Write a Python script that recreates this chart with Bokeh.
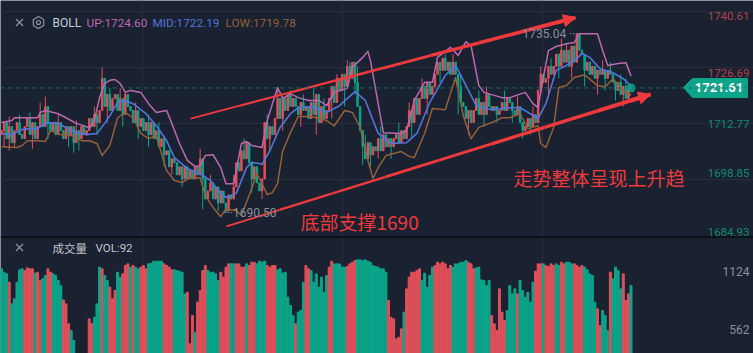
from bokeh.plotting import figure
from bokeh.embed import file_html
from bokeh.resources import INLINE
from bokeh.models import Range1d, FixedTicker, Span, Arrow, NormalHead
from bokeh.core.properties import value

BASE = 1700.0
CLOSE = [11,13,9,12,8,11,13,10,9,12,14,10,13,9,12,
 15,12,17,13, 11,13,10,13,11,9,12,10, 12,8,11,9,12,10, 11,14,12,15,13,16, 24,
 17,20,16,19, 20,16,19,15,20,17, 16,13,16,12, 14,11,13,10, 13,9, 11,7,9,5, 6,2,4,
 3,0,2,-1,2,-1, 1,-1,2,0, 4, -1,-6,-4, -2,-6,-3,-7,-4, -7,-9,-5,-6, -3,3,1, 6,4,8,
 3,-1,2,-2, -4,-1, 13,9,12, 10,14, 19,14, 19,16,20,17,19, 17,15,18,16,17,
 14,18,15,20,13,17,14,16, 19,22,18,24, 21,25,22,27,24, 28,23, 17,11, 7,4,8,5,7, 6,
 9,6,10,7,9,7, 9,10,8,11,9, 12,16,13, 19,15, 19,22,19,23,20, 22,25,
 28,26,29,26,28,25,28, 25,22,18, 17,14,16,13, 16,19,15,18,15,20,17, 16,17,15,16,
 18,16,19, 18,16,15,17, 13,11,12, 14,12,15,13, 21,25,23, 24,27,25, 27,30,27,31,
 28,31, 27,32,28, 35,31,30, 26,28, 25,27,24,26, 25,26,24,26,25, 23,21,
 23,20,22,19,22,21.61]
WICK_HIGH = {3:14.5,7:15,11:15.5,15:18,17:19.5,22:15,29:13.5,36:17,39:26.7,42:21.5,46:21.5,48:20.5,52:18,57:15,61:13,
 77:6.5,81:0,90:0,94:9,103:15,107:21,112:21,117:20,121:21.5,125:19,130:25,134:28.5,135:28,138:27,141:10,147:12,
 154:13,158:18,163:24,172:30,175:30,178:25,185:21,188:22,195:21,200:19.5,206:17,209:27,213:29,217:33.9,219:32.5,
 223:35.04,228:28,233:28.5,236:28,240:25,242:24}
WICK_LOW = {1:7,3:6,5:7,12:6.5,18:9,26:7,28:5.5,30:6,37:10,41:13,47:12,53:9,57:7,63:2,66:0,70:-3,78:-8.5,84:-9,87:-9.5,
 93:1,97:-4.5,101:-6,104:6,109:11,116:12,122:10,128:14,133:17,137:20,140:2.5,143:2,146:4,151:4,159:9,165:15,
 170:23,177:15,181:10,187:12,192:13,198:13,202:9,205:10,212:19,216:24,221:24,226:22,231:20,234:21,238:18.5,241:17,243:18}

UP_I = [0,4,5,14,15,17,22,25,29,33,34,36,38,40,42,44,46,48,50,54,57,60,64,66,69,72,75,77,79,82,85,87,90,93,95,97,101,102,103,105,107,109,112,115,119,123,126,129,134,136,140,142,143,146,148,155,157,160,164,167,169,174,177,180,182,185,187,194,197,203,206,208,210,212,215,219,222,224,227,231,233,235,239,242,244]
UP_V = [13,13.5,14.2,14.2,15.5,16,15.2,14.2,12.8,12,11.5,13.5,19.2,22.7,23.5,23.7,22.7,20.5,21,20.5,17.7,15.5,16,12.8,7.8,3.6,2.1,2.3,4.8,5,1.8,-2.2,-2.2,7.8,8.3,7.3,6.8,10.3,13.5,17.7,21.7,19,20.2,19.2,18.5,18.5,17.2,20.5,21.5,26.7,29.2,30.7,28.4,17.7,10.5,10.3,11,18.5,23,23,29.2,31.7,29.7,33.1,32.1,22.2,20.5,19.2,19.2,20.5,17.7,16.7,24.2,30.9,31.9,32.6,32.9,35.1,35.1,35.1,30.9,27.2,27.7,27.9,24.6]
MID_I = [0,4,8,12,14,17,21,25,29,33,37,40,42,45,48,51,56,60,64,67,72,77,81,85,87,91,95,97,100,101,104,108,112,115,120,126,131,137,141,146,151,157,161,166,172,176,179,184,190,194,197,201,205,208,211,215,219,223,225,228,232,237,241,244]
MID_V = [10.3,10,11.3,11.5,11.5,12.8,13,11.8,10.5,10,10.3,12.8,14.7,18,18.5,17.7,15.2,12.2,8.5,4.3,1.6,0.3,-1.4,-4.6,-5.6,-4.6,1.8,3.1,2.8,2.6,6,11.8,15.2,16.7,17,15.5,17.2,20.7,18.5,10.3,7.8,8,10.3,18,24.7,27.2,23.5,17.2,16.2,16.5,16.7,16.7,15.2,14,17.7,26,27.2,28.9,30.2,29.2,26.4,25.4,23.9,22.19]
LOW_I = [0,6,8,10,14,17,19,23,27,31,34,37,39,42,45,48,51,54,57,60,62,64,67,70,73,77,79,82,85,87,91,93,97,99,101,103,105,107,109,112,115,120,126,129,133,136,139,142,144,146,149,155,158,160,164,167,172,176,179,182,185,190,194,197,201,204,208,209,211,214,216,219,222,226,231,234,237,241,244]
LOW_V = [7,6.8,7.3,8.5,8.5,8.3,11,10,9.8,8.5,8.5,7.8,4.8,7.3,14.2,15.5,14.2,10.3,9,9.8,5.3,1.1,-1.4,-1.9,-0.7,-0.7,-5.2,-8.1,-10.4,-8.4,-8.9,-10.1,-3.4,0.3,-2.2,-4.9,-4.4,-2.2,6,10.5,14.5,14.5,13.5,12.2,16,15.5,11.8,3.6,-0.9,1.8,4.8,5.8,4.6,4.3,10.3,16.5,16.2,24.2,14.7,9,11.8,13,14.2,14.2,15.2,11.5,12.2,7.8,6.8,11.8,21.7,22.2,24.2,24.9,22.2,21.9,23.9,21,19.78]

VOLUME = [1150,1117,1101,1020,810,859,1020,1140,1150,1133,
 1159,1150,1150,1108,1117,1037,1053,1085,1150,1117,
 1101,1085,1037,988,849,810,617,552,455,300,
 300,300,300,300,665,617,681,810,1166,1150,
 1085,1037,972,859,940,1117,1069,1101,1182,1198,
 1166,1182,1166,1150,1166,1182,1150,1198,1204,1224,
 1224,1224,1224,1198,1182,1166,1140,1140,1133,1127,
 1117,907,923,423,697,536,827,940,1133,1182,
 1133,1117,1117,1101,1037,1117,1069,1166,1198,1198,
 1198,1198,1198,1166,1166,1198,1182,1214,1214,1198,
 1224,1214,1224,1182,1166,1182,1182,1140,1150,1108,
 1117,875,794,697,617,730,746,1020,1182,1150,
 1133,1020,1101,972,1069,923,1085,1166,1224,1198,
 1198,1198,1166,1166,1172,1198,1214,1230,1237,1237,
 1230,1237,1224,1214,1182,1172,1166,1150,1150,1117,
 843,681,665,471,487,568,730,956,1069,1117,
 1117,1133,1150,1037,1108,972,1085,1166,1182,1214,
 1198,1214,1198,1150,1182,1166,1198,1198,1214,1214,
 1230,1214,1198,1150,1159,1166,1043,1037,988,1037,
 697,617,552,956,730,649,746,988,907,956,
 907,1037,940,875,923,827,1020,1127,1198,1198,
 1198,1182,1172,1198,1182,1198,1182,1214,1198,1214,
 1214,1198,1198,1182,1166,1182,1166,1140,1101,1085,
 827,762,600,746,697,552,1117,1053,1166,1133,
 956,1101,843,907,988]
VOL_RUNS = [("G",3),("R",1),("G",5),("R",4),("G",1),("R",2),("G",2),("R",2),("G",4),("R",3),("G",2),("R",7),("G",3),("R",1),("G",2),("R",3),("G",2),("R",3),("G",1),("R",1),("G",2),("R",3),("G",6),("R",4),("G",5),("R",3),("G",1),("R",4),("G",5),("R",4),("G",2),("R",4),("G",1),("R",3),("G",4),("R",4),("G",7),("R",1),("G",3),("R",2),("G",7),("R",2),("G",5),("R",4),("G",12),("R",6),("G",1),("R",6),("G",5),("R",7),("G",6),("R",3),("G",6),("R",6),("G",4),("R",1),("G",6),("R",3),("G",1),("R",4),("G",2),("R",2),("G",3),("R",4),("G",5),("R",2),("G",3),("R",1),("G",4),("R",3),("G",1)]

TICK_PRICES = [1740.61,1726.69,1712.77,1698.85,1684.93]
TICK_LABELS = ["1740.61","1726.69","1712.77","1698.85","1684.93"]
VOL_TICKS = [1124,562]
LAST_PRICE = 1721.61
HIGHEST = 1735.04
LOWEST = 1690.50
TREND_UPPER = ((73.3,1714.0),(222.5,1739.1))
TREND_LOWER = ((87.2,1687.2),(251.6,1720.0))

BG="#1a2130"; GRID="#262e3d"; RED="#e0505b"; GREEN="#0ca58b"
PINK="#bc69b0"; BLUE="#5474dc"; BROWN="#95603a"; ANN="#ee3a3c"; GRAY="#8b909c"
STEP=2.58
W=753; H=353

def X(px): return (px-1)/STEP
def Y(py): return 1743.344-py*0.24857

assert len(CLOSE)==245 and len(VOLUME)==245, (len(CLOSE),len(VOLUME))
N=245
idx=list(range(N))
close=[BASE+c for c in CLOSE]
opn=[close[0]-1]+close[:-1]
high=[max(o,c) for o,c in zip(opn,close)]
low=[min(o,c) for o,c in zip(opn,close)]
for k,v in WICK_HIGH.items(): high[k]=max(high[k],BASE+v)
for k,v in WICK_LOW.items(): low[k]=min(low[k],BASE+v)
ccol=[RED if c>=o else GREEN for o,c in zip(opn,close)]
vdir=[]
for c,n in VOL_RUNS: vdir+= [c]*n
vdir=(vdir+["G"]*N)[:N]
vcol=[RED if d=="R" else GREEN for d in vdir]

p=figure(width=W,height=H,output_backend="svg",toolbar_location=None,
         x_range=Range1d(X(0),X(W)),y_range=Range1d(Y(H),Y(0)),
         x_axis_location=None,y_axis_location=None,min_border=0,
         background_fill_color=BG,border_fill_color=BG,outline_line_color=None)
p.extra_y_ranges={"vol":Range1d(1124-(H-271)*9.69,1124+271*9.69)}
p.xgrid.ticker=FixedTicker(ticks=[54.8,132.2,209.7]); p.xgrid.grid_line_color=GRID
p.ygrid.ticker=FixedTicker(ticks=TICK_PRICES[:4]); p.ygrid.grid_line_color=GRID

p.vbar(x=idx,top=VOLUME,bottom=0,width=0.76,color=vcol,y_range_name="vol")
p.add_layout(Span(location=Y(236.5),dimension="width",line_color="#090b10",line_width=1.5))
p.add_layout(Span(location=LAST_PRICE,dimension="width",line_color="#1f6f66",line_width=1,line_dash="4 4"))

p.segment(x0=idx,x1=idx,y0=low,y1=high,color=ccol,line_width=1)
p.vbar(x=idx,top=close,bottom=opn,width=0.55,color=ccol)
p.line(UP_I,[BASE+v for v in UP_V],line_color=PINK,line_width=1.5,line_join="round")
p.line(MID_I,[BASE+v for v in MID_V],line_color=BLUE,line_width=1.6,line_join="round")
p.line(LOW_I,[BASE+v for v in LOW_V],line_color=BROWN,line_width=1.5,line_join="round")
p.scatter([N-1],[LAST_PRICE],size=8,color=GREEN,alpha=0.85)

for (a,b),w0,w1 in ((TREND_UPPER,1.6,4),(TREND_LOWER,1.8,4)):
    n=8
    for k in range(n):
        t0,t1=k/n,(k+1)/n
        p.segment(x0=[a[0]+(b[0]-a[0])*t0],y0=[a[1]+(b[1]-a[1])*t0],
                  x1=[a[0]+(b[0]-a[0])*t1],y1=[a[1]+(b[1]-a[1])*t1],
                  line_color=ANN,line_width=w0+(w1-w0)*(k+0.5)/n)
    p.add_layout(Arrow(end=NormalHead(size=12,fill_color=ANN,line_color=ANN),
                       x_start=a[0]+(b[0]-a[0])*0.95,y_start=a[1]+(b[1]-a[1])*0.95,
                       x_end=b[0],y_end=b[1],line_color=ANN,line_width=4))

def T(px,py,s,color,size,font="Roboto",align="left",style="normal",dy=0):
    p.text(x=[X(px)],y=[Y(py)],text=[s],text_color=color,text_font=value(font),
           text_font_size=f"{size}px",text_baseline="middle",text_align=align,
           text_font_style=style,y_offset=dy)

tick_offsets=[5,6,1,-6,-4]
tick_cols=["#b0444d","#b0444d","#0e8a75","#0e8a75","#0e8a75"]
for pr,lb,of,c in zip(TICK_PRICES,TICK_LABELS,tick_offsets,tick_cols):
    p.text(x=[X(749)],y=[pr],text=[lb],text_color=c,text_font=value("Roboto"),text_font_size="11.5px",
           text_baseline="middle",text_align="right",y_offset=of)
for v in VOL_TICKS:
    p.text(x=[X(749)],y=[v],text=[str(v)],text_color=GRAY,text_font=value("Roboto"),text_font_size="12px",
           text_baseline="middle",text_align="right",y_range_name="vol")

p.patch([X(683),X(692),X(747),X(747),X(692)],[Y(87),Y(78),Y(78),Y(97),Y(97)],color="#0ca58b")
p.text(x=[X(718.5)],y=[LAST_PRICE],text=[f"{LAST_PRICE:.2f}"],text_color="#ffffff",text_font=value("Roboto"),
       text_font_size="13px",text_font_style="bold",text_baseline="middle",text_align="center")

p.text(x=[X(522)],y=[HIGHEST],text=[f"{HIGHEST:.2f} ···"],text_color=GRAY,text_font=value("Roboto"),
       text_font_size="12px",text_baseline="middle")
p.text(x=[X(223)],y=[LOWEST],text=[f"···{LOWEST:.2f}"],text_color=GRAY,text_font=value("Roboto"),
       text_font_size="12px",text_baseline="middle")

icon="#8b909c"
p.scatter([X(19)],[Y(22)],marker="x",size=10,line_color=icon,line_width=1.3)
p.scatter([X(38)],[Y(22)],marker="hex",size=12,angle=0.5236,fill_color=None,line_color=icon,line_width=1.2)
p.scatter([X(38)],[Y(22)],marker="circle",size=4,fill_color=None,line_color=icon,line_width=1.2)
T(52,22,"BOLL","#c8ccd4",12)
T(86,22,"UP:1724.60",PINK,11.8)
T(152,22,"MID:1722.19",BLUE,11.8)
T(225,22,"LOW:1719.78",BROWN,11.8)
p.scatter([X(19)],[Y(247)],marker="x",size=10,line_color=icon,line_width=1.3)
T(52,247,"成交量","#c0c4cc",11.5,font="Noto Sans CJK SC")
T(95,247,"VOL:92","#c0c4cc",11.5)

T(513,177,"走势整体呈现上升趋",ANN,19,font="Noto Sans CJK SC")
T(300,221,"底部支撑1690",ANN,19,font="Noto Sans CJK SC")

open("out.html","w").write(file_html(p,INLINE))
